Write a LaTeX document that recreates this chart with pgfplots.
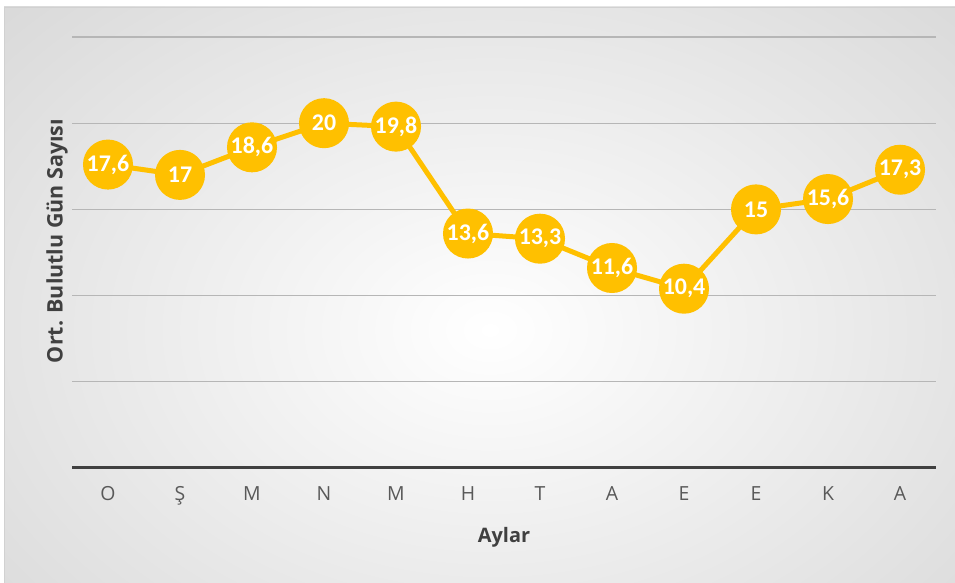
\documentclass[border=0pt]{standalone}
\usepackage{pgfplots}
\pgfplotsset{compat=1.18}
\usepackage{fontspec}
\setmainfont{Open Sans}
\newfontfamily\labfont{Carlito}
\definecolor{gold}{HTML}{FFC000}
\definecolor{ticktxt}{HTML}{595959}
\definecolor{titletxt}{HTML}{404040}
\definecolor{gridc}{HTML}{B6B6B6}
\definecolor{outerbg}{HTML}{B0B0B0}
\pgfplotstableread{
x y lab
0 17.6 17,6
1 17.0 17
2 18.6 18,6
3 20.0 20
4 19.8 19,8
5 13.6 13,6
6 13.3 13,3
7 11.6 11,6
8 10.4 10,4
9 15.0 15
10 15.6 15,6
11 17.3 17,3
}\datatable
\begin{document}
\begin{tikzpicture}[x=1bp,y=1bp]
\useasboundingbox (0,0) rectangle (955,583);
\fill[white] (0,0) rectangle (955,583);
\begin{scope}
\clip (4,0) rectangle (955,576);
\shade[inner color=white, outer color=outerbg] (490-1400,253-1000) rectangle (490+1400,253+1000);
\end{scope}
\draw[color=black!18, line width=0.8bp] (4,0) -- (4,576) -- (955,576);
\begin{axis}[
  at={(72bp,115bp)}, anchor=south west,
  width=864bp, height=431bp, scale only axis,
  xmin=-0.5, xmax=11.5, ymin=0, ymax=25,
  xtick={0,...,11},
  xticklabels={O,Ş,M,N,M,H,T,A,E,E,K,A},
  ytick={5,10,15,20,25},
  yticklabels={},
  ymajorgrids,
  major grid style={color=gridc, line width=1.3bp},
  axis x line*=bottom,
  axis y line*=left,
  y axis line style={draw=none},
  x axis line style={line width=3bp, color=titletxt, -},
  major tick length=0pt,
  xticklabel style={font=\fontsize{19.5}{21}\selectfont, text=ticktxt, yshift=-15bp},
  clip=false,
]
\addplot[color=gold, line width=5bp, mark=*, mark size=22.5bp,
  mark options={fill=gold, draw=none},
  nodes near coords, point meta=explicit symbolic,
  every node near coord/.append style={anchor=center, text=white,
    font=\labfont\bfseries\fontsize{24}{26}\selectfont, inner sep=0pt}]
  table[x=x, y=y, meta=lab] {\datatable};
\end{axis}
\node[font=\bfseries\fontsize{20}{22}\selectfont, text=titletxt] at (504,46) {Aylar};
\node[font=\bfseries\fontsize{21.5}{23}\selectfont, text=titletxt, rotate=90] at (57,342) {Ort. Bulutlu Gün Sayısı};
\end{tikzpicture}
\end{document}
